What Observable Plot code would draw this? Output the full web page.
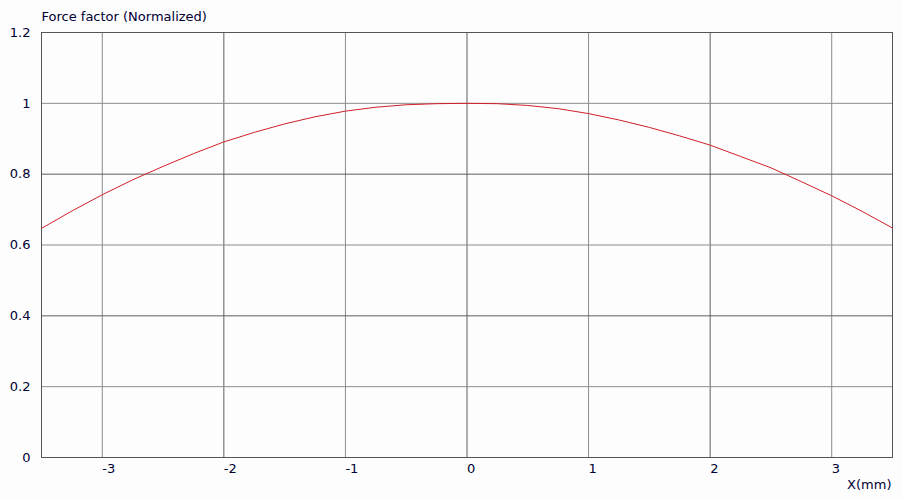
<!DOCTYPE html>
<html>
<head>
<meta charset="utf-8">
<script src="https://cdn.jsdelivr.net/npm/d3@7"></script>
<script src="https://cdn.jsdelivr.net/npm/@observablehq/plot@0.6"></script>
<style>
  html, body { margin: 0; padding: 0; background: #fdfdfd; }
  #chart svg { display: block; }
</style>
</head>
<body>
<div id="chart"></div>
<script>
const xValues = [-3.5, -3.25, -3, -2.75, -2.5, -2.25, -2, -1.75, -1.5, -1.25, -1, -0.75, -0.5, -0.25, 0,
                 0.25, 0.5, 0.75, 1, 1.25, 1.5, 1.75, 2, 2.25, 2.5, 2.75, 3, 3.25, 3.5];
const forceFactor = [0.647, 0.696, 0.742, 0.784, 0.822, 0.858, 0.891, 0.918, 0.942, 0.962, 0.978, 0.989, 0.996, 0.999, 1.000,
                     0.999, 0.994, 0.985, 0.971, 0.953, 0.932, 0.908, 0.882, 0.850, 0.818, 0.779, 0.739, 0.695, 0.648];
const xTicks = [-3, -2, -1, 0, 1, 2, 3];
const yTicks = [0, 0.2, 0.4, 0.6, 0.8, 1, 1.2];
const yTickLabels = ["0", "0.2", "0.4", "0.6", "0.8", "1", "1.2"];
const title = "Force factor (Normalized)";
const xLabel = "X(mm)";

const data = xValues.map((x, i) => ({x, y: forceFactor[i]}));
const dark = "#5f5f5f", light = "#8c8c8c";

const chart = Plot.plot({
  width: 902,
  height: 499,
  marginLeft: 41,
  marginRight: 10,
  marginTop: 32,
  marginBottom: 42,
  style: {fontFamily: "'DejaVu Sans', Verdana, sans-serif", fontSize: "13px", color: "#000033", background: "#fdfdfd"},
  x: {domain: [-3.5, 3.5]},
  y: {domain: [0, 1.2]},
  marks: [
    Plot.ruleX(xTicks, {x: d => d, stroke: d => (Math.abs(d) % 2 === 0 ? dark : light), strokeWidth: 1}),
    Plot.ruleY(yTicks.slice(1, -1), {y: d => d, stroke: d => (Math.round(d * 10) % 4 === 0 ? dark : light), strokeWidth: 1}),
    Plot.frame({stroke: "#555555"}),
    Plot.axisX(xTicks, {tickSize: 0, tickPadding: 6, textAnchor: "start", dx: 0, tickFormat: d => String(d), label: null, fill: "#000033", fontSize: 13}),
    Plot.axisY(yTicks, {tickSize: 0, tickPadding: 11, tickFormat: (d, i) => yTickLabels[i], label: null, fill: "#000033", fontSize: 13}),
    Plot.line(data, {x: "x", y: "y", stroke: "#d0202a", strokeWidth: 1}),
    Plot.text([title], {frameAnchor: "top-left", dy: -21, textAnchor: "start", fill: "#000033", fontSize: 13}),
    Plot.text([xLabel], {frameAnchor: "bottom-right", dy: 31, dx: -1, textAnchor: "end", fill: "#000033", fontSize: 13})
  ]
});
document.getElementById("chart").appendChild(chart);
</script>
</body>
</html>
